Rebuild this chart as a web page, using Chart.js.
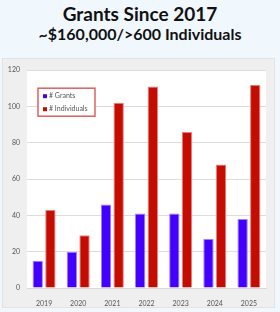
<!DOCTYPE html>
<html>
<head>
<meta charset="utf-8">
<script src="https://cdn.jsdelivr.net/npm/chart.js@4.4.0/dist/chart.umd.min.js"></script>
<style>
  body { margin: 0; background: #f0f8fe; width: 280px; height: 312px; overflow: hidden; font-family: Lato, "Open Sans", sans-serif; }
  .t1 { position: absolute; left: 0; width: 280px; top: 2px; text-align: center; font-weight: bold; font-size: 19px; color: #111; }
  .t2 { position: absolute; left: 0; width: 280px; top: 24px; text-align: center; font-weight: bold; font-size: 16px; color: #111; }
  #panel { position: absolute; left: 2px; top: 58px; width: 271px; height: 248px; background: #efefef; border: 1px solid #e2e2e2; }
</style>
</head>
<body>
<div class="t1">Grants Since 2017</div>
<div class="t2">~$160,000/&gt;600 Individuals</div>
<div id="panel"><canvas id="myChart"></canvas></div>
<script>
const years = ['2019', '2020', '2021', '2022', '2023', '2024', '2025'];
const grants = [15, 20, 46, 41, 41, 27, 38];
const individuals = [43, 29, 102, 111, 86, 68, 112];
const yTicks = [0, 20, 40, 60, 80, 100, 120];

// white plot area
const plotBg = {
  id: 'plotBg',
  beforeDraw(chart) {
    const a = chart.chartArea;
    const c = chart.ctx;
    c.save();
    c.fillStyle = '#ffffff';
    c.fillRect(a.left, a.top, a.right - a.left, a.bottom - a.top);
    c.restore();
  }
};

// legend box drawn inside the plot
const boxLegend = {
  id: 'boxLegend',
  afterDraw(chart) {
    const a = chart.chartArea;
    const c = chart.ctx;
    const x = a.left + 11, y = a.top + 18, w = 57, h = 28;
    c.save();
    c.fillStyle = '#ffffff';
    c.fillRect(x, y, w, h);
    c.strokeStyle = '#e06060';
    c.lineWidth = 1.5;
    c.strokeRect(x, y, w, h);
    c.font = '7px Lato, sans-serif';
    c.textBaseline = 'middle';
    chart.data.datasets.forEach((ds, i) => {
      const yy = y + 8 + i * 13;
      c.fillStyle = ds.backgroundColor;
      c.fillRect(x + 5, yy - 2, 4, 4);
      c.fillStyle = '#555';
      c.fillText(ds.label, x + 11, yy);
    });
    c.restore();
  }
};

new Chart(document.getElementById('myChart'), {
  type: 'bar',
  data: {
    labels: years,
    datasets: [
      { label: '# Grants', data: grants, backgroundColor: '#4400ff', borderColor: '#9a80ff', borderWidth: 1, barPercentage: 0.82, categoryPercentage: 0.74 },
      { label: '# Individuals', data: individuals, backgroundColor: '#c40c00', borderColor: '#e88080', borderWidth: 1, barPercentage: 0.82, categoryPercentage: 0.74 }
    ]
  },
  options: {
    responsive: true,
    maintainAspectRatio: false,
    animation: false,
    layout: { padding: { left: 0, right: 8, top: 5, bottom: 0 } },
    plugins: { legend: { display: false }, tooltip: { enabled: false } },
    scales: {
      x: {
        grid: { display: false },
        border: { color: '#d8d8d8' },
        ticks: { color: '#555', font: { size: 7, family: 'Lato' }, padding: 4 },
        afterFit: s => { s.height = 19; }
      },
      y: {
        min: 0, max: 120,
        afterBuildTicks: s => { s.ticks = yTicks.map(v => ({ value: v })); },
        grid: { color: '#dcdcdc', drawTicks: false },
        border: { display: false },
        ticks: { color: '#555', font: { size: 7, family: 'Lato' }, padding: 7 },
        afterFit: s => { s.width = 24; }
      }
    }
  },
  plugins: [plotBg, boxLegend]
});
</script>
</body>
</html>
